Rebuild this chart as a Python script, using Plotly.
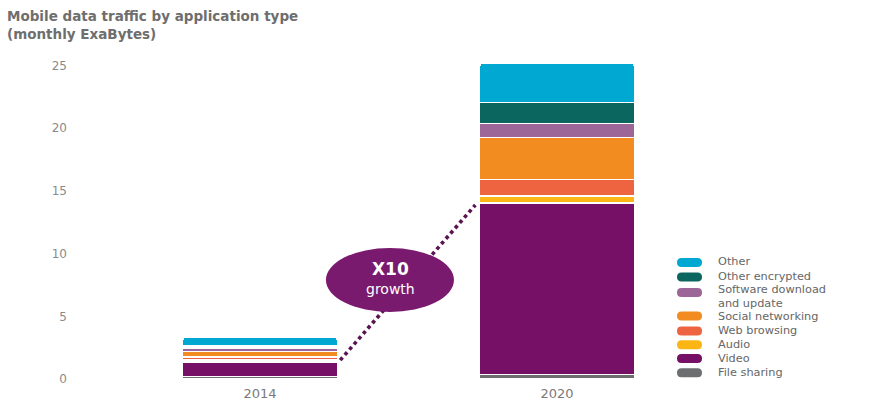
import plotly.graph_objects as go

# ---------------- data ----------------
years = ["2014", "2020"]
series_names = ["File sharing", "Video", "Audio", "Web browsing",
                "Social networking", "Software download and update",
                "Other encrypted", "Other"]
file_sharing = [0.2, 0.35]
video = [1.15, 13.7]
audio = [0.18, 0.55]
web_browsing = [0.22, 1.3]
social_networking = [0.42, 3.35]
software_update = [0.3, 1.15]
other_encrypted = [0.15, 1.65]
other = [0.7, 3.15]
series_values = [file_sharing, video, audio, web_browsing, social_networking,
                 software_update, other_encrypted, other]
colors = ["#6d6e70", "#760f66", "#fbb616", "#ee6340", "#f38c20",
          "#9c6699", "#0c6660", "#00a8d2"]
legend_labels = ["Other", "Other encrypted", "Software download<br>and update",
                 "Social networking", "Web browsing", "Audio", "Video", "File sharing"]
legend_colors = ["#00a8d2", "#0c6660", "#9c6699", "#f38c20", "#ee6340",
                 "#fbb616", "#760f66", "#6d6e70"]
y_ticks = [0, 5, 10, 15, 20, 25]
title_text = "Mobile data traffic by application type<br>(monthly ExaBytes)"
growth_main = "X10"
growth_sub = "growth"

FONT = "DejaVu Sans"
W, H = 885, 403
L, R, T, B = 68, 220, 53, 24
PW, PH = W - L - R, H - T - B

fig = go.Figure()
for name, vals, col in zip(series_names, series_values, colors):
    fig.add_trace(go.Bar(x=years, y=vals, name=name, marker_color=col,
                         marker_line_color="white", marker_line_width=1.4,
                         width=0.52, showlegend=False,
                         hovertemplate=name + ": %{y}<extra></extra>"))

# video tops (cumulative) for the growth connector
top14 = file_sharing[0] + video[0]
top20 = file_sharing[1] + video[1]

shapes = []
# dotted connector from 2014 video to 2020 video
shapes.append(dict(type="line", xref="x", yref="y", x0=0.27, y0=top14 + 0.15,
                   x1=0.725, y1=top20 - 0.17,
                   line=dict(color="#5a1450", width=3.6, dash="3.6px,3.4px"),
                   layer="above"))
# growth ellipse
shapes.append(dict(type="circle", xref="x", yref="y", x0=0.222, x1=0.653,
                   y0=5.35, y1=10.45, fillcolor="#7a1a6f", line=dict(width=0),
                   layer="above"))


def px2paper(px, py):
    return (px - L) / PW, (H - B - py) / PH


def pill(x0, x1, yc, h):
    r = h / 2.0
    y0, y1 = yc - r, yc + r
    seq = [("M", [(x0 + r, y0)]), ("L", [(x1 - r, y0)]),
           ("Q", [(x1, y0), (x1, yc)]), ("Q", [(x1, y1), (x1 - r, y1)]),
           ("L", [(x0 + r, y1)]), ("Q", [(x0, y1), (x0, yc)]),
           ("Q", [(x0, y0), (x0 + r, y0)])]
    s = ""
    for cmd, ps in seq:
        s += cmd + " " + " ".join("%.5f,%.5f" % px2paper(a, b) for a, b in ps) + " "
    return s + "Z"


annotations = []
leg_y = [262.5, 277.0, 292.5, 316.0, 331.0, 344.8, 358.6, 372.8]
text_y = [[261.5], [276.0], [289.6, 303.0], [316.6], [330.4], [344.2], [358.0], [372.2]]
for lab, col, yc, tys in zip(legend_labels, legend_colors, leg_y, text_y):
    shapes.append(dict(type="path", xref="paper", yref="paper",
                       path=pill(677, 702, yc, 9), fillcolor=col,
                       line=dict(width=0)))
    for t, yy in zip(lab.split("<br>"), tys):
        xp, yp = px2paper(716, yy)
        annotations.append(dict(text=t, xref="paper", yref="paper", x=xp, y=yp,
                                xanchor="left", yanchor="middle", showarrow=False,
                                font=dict(family=FONT, size=11.3, color="#666666")))

annotations.append(dict(text="<b>" + growth_main + "</b>", xref="x", yref="y",
                        x=0.4377, y=8.75, showarrow=False, xanchor="center",
                        yanchor="middle",
                        font=dict(family=FONT, size=17, color="white")))
annotations.append(dict(text=growth_sub, xref="x", yref="y", x=0.4377, y=7.2,
                        showarrow=False, xanchor="center", yanchor="middle",
                        font=dict(family=FONT, size=14, color="white")))

# title as annotation
tx, ty_ = px2paper(5, 6)
annotations.append(dict(text="<b>" + title_text + "</b>", xref="paper", yref="paper",
                        x=tx, y=ty_, xanchor="left", yanchor="top", align="left",
                        showarrow=False,
                        font=dict(family=FONT, size=13.5, color="#6e6e6e")))

fig.update_layout(
    width=W, height=H,
    margin=dict(l=L, r=R, t=T, b=B, autoexpand=False),
    paper_bgcolor="white", plot_bgcolor="white",
    barmode="stack", barcornerradius=3,
    xaxis=dict(type="category", range=[-0.6465, 1.3636], showgrid=False,
               zeroline=False, showline=False, ticks="", ticklabelstandoff=5,
               automargin=False,
               tickfont=dict(family=FONT, size=13, color="#7a7a7a")),
    yaxis=dict(range=[0, 26], tickvals=y_ticks, showgrid=False, zeroline=False,
               showline=False, ticks="", automargin=False,
               tickfont=dict(family=FONT, size=12, color="#8a8a8a")),
    shapes=shapes, annotations=annotations,
    font=dict(family=FONT),
)

fig.write_html("out.html", config={"displayModeBar": False},
               post_script="document.body.style.margin='0px';"
                           "document.body.style.padding='0px';")
